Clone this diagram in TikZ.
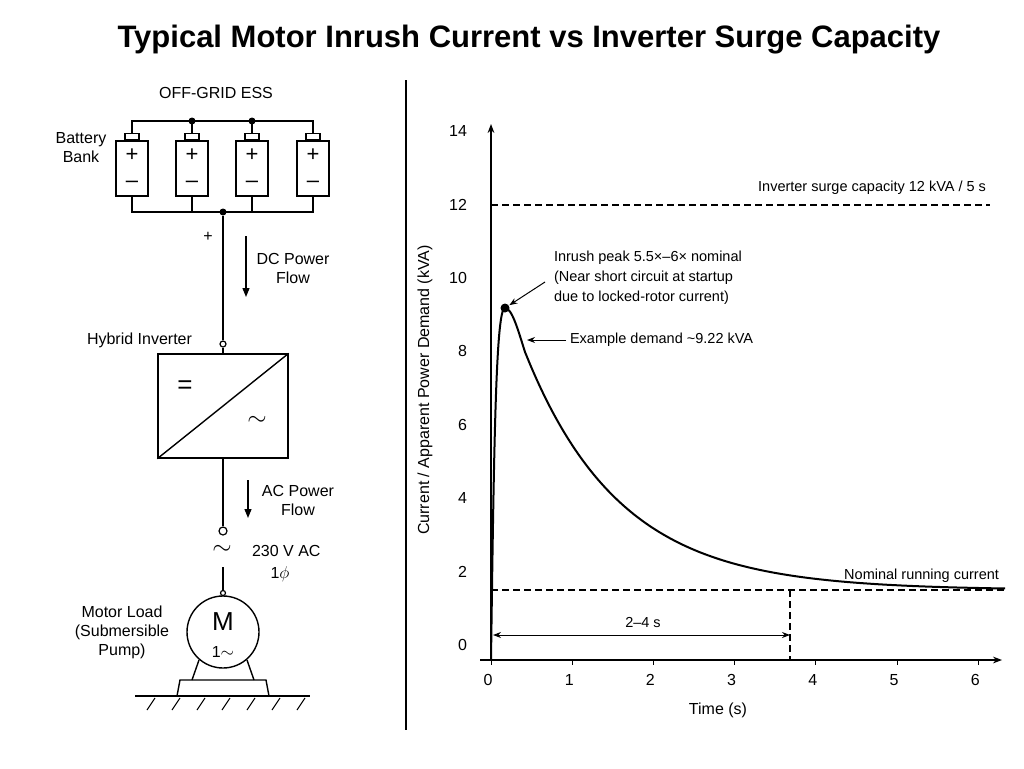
\documentclass[tikz,border=0pt]{standalone}
\usepackage{fontspec}
\setmainfont{Liberation Sans}
\usetikzlibrary{arrows.meta}
\begin{document}
\begin{tikzpicture}[x=1pt,y=-1pt,line width=1.4pt,
  lbl/.style={font=\fontsize{16}{19}\selectfont,align=center},
  sm/.style={font=\fontsize{14.5}{17}\selectfont,align=left},
  cell/.style={draw,minimum width=32pt,minimum height=55pt,inner sep=0pt},
  dot/.style={circle,fill,inner sep=0pt,minimum size=7pt},
  term/.style={circle,draw,fill=white,inner sep=0pt,minimum size=8pt,line width=1.2pt},
  flow/.style={-{Triangle[length=9pt,width=7pt]},line width=1.3pt},
  dsh/.style={dash pattern=on 7pt off 4pt,line width=1.1pt}]
\useasboundingbox (0,0) rectangle (1024,768);
\fill[white] (0,0) rectangle (1024,768);
\node[font=\bfseries\fontsize{31}{34}\selectfont] (title) at (529,40) {Typical Motor Inrush Current vs Inverter Surge Capacity};
% left panel
\node[lbl] (ess) at (216,93) {OFF-GRID ESS};
\node[lbl] (bb) at (81,148) {Battery\\Bank};
\foreach \i/\x in {1/132,2/192,3/252,4/313}{
  \node[cell] (c\i) at (\x,168.5) {};
  \node[draw,minimum width=14pt,minimum height=6pt,inner sep=0pt,anchor=south] (t\i) at (c\i.north) {};
  \node[font=\fontsize{22}{22}\selectfont] at (\x,155) {+};
  \node[font=\fontsize{22}{22}\selectfont] at (\x,184) {--};
}
\coordinate (tl) at (132,121); \coordinate (tr) at (313,121);
\draw (t1.north) -- (tl) -- (tr) -- (t4.north);
\draw (t2.north) -- (192,121); \draw (t3.north) -- (252,121);
\node[dot] (d1) at (192,121) {}; \node[dot] (d2) at (252,121) {};
\draw (c1.south) -- (132,212) -- (313,212) -- (c4.south);
\draw (c2.south) -- (192,212); \draw (c3.south) -- (252,212);
\node[dot] (bus) at (223,212) {};
\node[lbl] at (208,237) {+};
\node[draw,minimum width=130pt,minimum height=104pt,inner sep=0pt] (inv) at (223,406) {};
\draw (inv.south west) -- (inv.north east);
\node[font=\fontsize{26}{26}\selectfont] at (185,387) {=};
\node[font=\fontsize{32}{32}\selectfont] at (257,421) {$\sim$};
\node[term,minimum size=6pt] (invin) at (223,344) {};
\draw (bus) -- (invin); \draw (invin) -- (inv.north);
\node[lbl,anchor=east] at (196,340) {Hybrid Inverter};
\draw[flow] (246,236) -- (246,297);
\node[lbl] at (293,268) {DC Power\\Flow};
\node[term] (acout) at (223,531) {};
\draw (inv.south) -- (acout);
\draw[flow] (248,480) -- (248,518);
\node[lbl] at (298,500) {AC Power\\Flow};
\node[font=\fontsize{36}{36}\selectfont] at (222,550) {$\sim$};
\node[lbl,anchor=west] at (248,551) {230 V AC};
\node[lbl] at (280,574) {1$\phi$};
\node[circle,draw,minimum size=72pt,inner sep=0pt] (mot) at (223,632) {};
\node[font=\fontsize{26}{26}\selectfont] at (223,622) {M};
\node[lbl] at (223,652) {1$\sim$};
\node[term,minimum size=5pt] (mt) at (223,593) {};
\draw (223,567) -- (mt);
\node[lbl] at (122,632) {Motor Load\\(Submersible\\Pump)};
\draw (199,660) -- (192,680); \draw (247,660) -- (254,680);
\draw (180,680) -- (266,680) -- (269,696) -- (177,696) -- cycle;
\draw (135,696) -- (310,696);
\foreach \x in {155,180,205,230,255,280,305}{\draw[line width=1pt] (\x,698) -- (\x-8,710);}
\draw[line width=1.5pt] (406,80) -- (406,730);
% chart
\coordinate (O) at (491,660);
\draw[-{Stealth[length=9pt]},line width=1.2pt] (491,660) -- (491,124);
\draw[-{Stealth[length=9pt]},line width=1.2pt] (480,660) -- (1002,660);
\foreach \v in {0,2,...,14}{
  \node[lbl,anchor=east] at (471,{645-36.7*\v}) {\v};}
\foreach \t in {0,...,6}{
  \draw[line width=1pt] ({491+81.2*\t},660) -- ({491+81.2*\t},665);
  \node[lbl] at ({488+81.2*\t},680) {\t};}
\node[lbl] at (718,710) {Time (s)};
\node[lbl,rotate=90] at (425,390) {Current / Apparent Power Demand (kVA)};
\draw[dsh] (491,205) -- (990,205);
\node[sm,anchor=east] at (990,188) {Inverter surge capacity 12 kVA / 5 s};
\draw[dsh] (491,590) -- (1005,590);
\draw[dsh] (790,590) -- (790,660);
\node[sm,anchor=east] at (1003,576) {Nominal running current};
\draw[{Stealth[length=8pt]}-{Stealth[length=8pt]},line width=1pt] (493,635) -- (790,635);
\node[sm] at (643,622) {2--4 s};
\draw[line width=2pt] (491,660) .. controls (494,440) and (496,308) .. (505,308)
  .. controls (512,308) and (518,330) .. (525,352)
  -- plot[domain=525:1005,samples=80,smooth] (\x,{590-238*exp(-(\x-525)/95)});
\node[dot,minimum size=9pt] (pk) at (505,308) {};
\node[sm,anchor=west] at (550,258) {Inrush peak 5.5×--6× nominal};
\node[sm,anchor=west] at (550,278) {(Near short circuit at startup};
\node[sm,anchor=west] at (550,298) {due to locked-rotor current)};
\draw[-{Stealth[length=8pt]},line width=1pt] (545,282) -- (pk);
\node[sm,anchor=west] (ex) at (566,340) {Example demand \textasciitilde9.22 kVA};
\draw[-{Stealth[length=8pt]},line width=1pt] (ex.west) -- (527,340);
\end{tikzpicture}
\end{document}
